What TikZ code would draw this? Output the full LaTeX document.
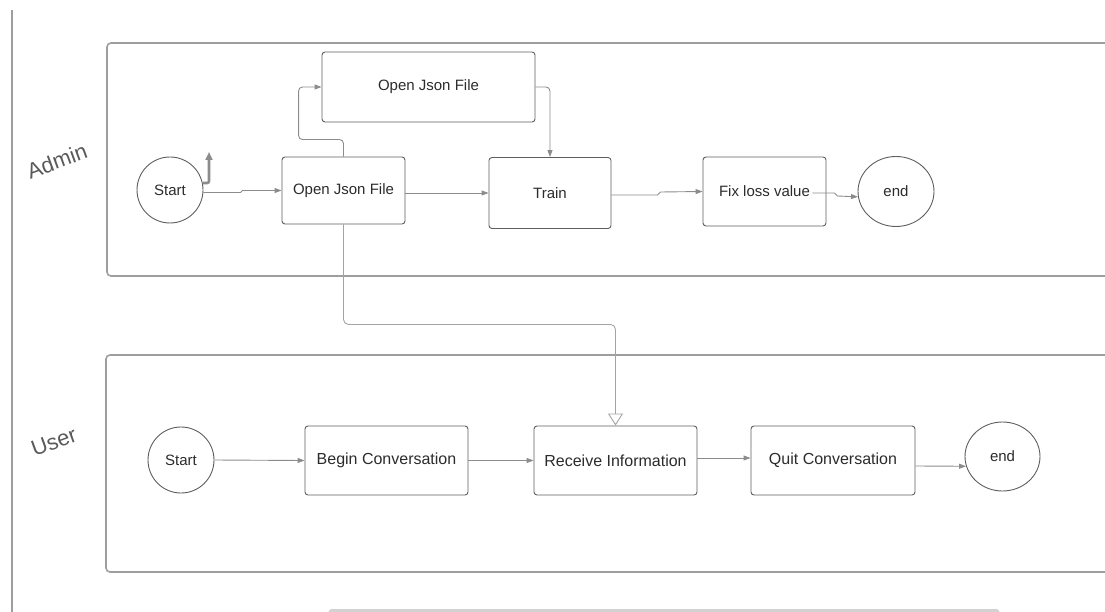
\documentclass[tikz,border=0pt]{standalone}
\usepackage{fontspec}
\setmainfont{Liberation Sans}
\usetikzlibrary{arrows.meta,shapes.geometric}
\definecolor{boxc}{HTML}{5E5E5E}
\definecolor{flowc}{HTML}{8C8C8C}
\definecolor{lanec}{HTML}{9E9E9E}
\definecolor{txtc}{HTML}{2B2B2B}
\definecolor{lblc}{HTML}{5A5A5A}
\begin{document}
\begin{tikzpicture}[x=1pt,y=-1pt,
  procbox/.style={draw=boxc, line width=0.9pt, rounded corners=3pt, inner sep=0pt,
    text=txtc, font=\fontsize{15}{18}\selectfont},
  termc/.style={draw=boxc, line width=0.9pt, circle, inner sep=0pt, minimum size=66pt,
    text=txtc, font=\fontsize{15}{18}\selectfont},
  terme/.style={draw=boxc, line width=0.9pt, ellipse, inner sep=0pt,
    text=txtc, font=\fontsize{15}{18}\selectfont},
  flow/.style={draw=flowc, line width=0.9pt, -{Triangle[length=7pt,width=5pt]}},
  lanebox/.style={draw=lanec, line width=1.6pt, rounded corners=4pt},
  lanelbl/.style={text=lblc, font=\fontsize{22}{26}\selectfont, rotate=20}]
\useasboundingbox (0,0) rectangle (1105,612);

% left boundary line
\draw[draw=lanec, line width=2pt] (12,10) -- (12,612);

% swim lanes
\draw[lanebox] (1105,43) -- (107,43) -- (107,276) -- (1105,276);
\draw[lanebox] (1105,355) -- (106,355) -- (106,572) -- (1105,572);
\draw[draw=gray!35, line width=3pt, rounded corners=2pt] (330,613) -- (330,610.5) -- (998,610.5) -- (998,613);

\node[lanelbl] (ladmin) at (57,161) {Admin};
\node[lanelbl] (luser) at (54,442) {User};

% Admin lane
\node[termc] (astart) at (170,190) {Start};
\node[procbox, minimum width=123pt, minimum height=67pt] (ojf) at (343.5,190.5) {Open Json File};
\node[procbox, minimum width=213pt, minimum height=70pt] (top) at (428.5,87) {Open Json File};
\node[procbox, minimum width=122pt, minimum height=71pt] (train) at (550,193) {Train};
\node[procbox, minimum width=123pt, minimum height=69pt] (fix) at (764.5,191.5) {Fix loss value};
\node[terme, minimum width=76pt, minimum height=70pt] (aend) at (896,191.5) {end};

% User lane
\node[termc] (ustart) at (181,460) {Start};
\node[procbox, minimum width=163pt, minimum height=69pt, font=\fontsize{16}{19}\selectfont] (begin) at (386.5,460.5) {Begin Conversation};
\node[procbox, minimum width=163pt, minimum height=69pt, font=\fontsize{16}{19}\selectfont] (recv) at (615.5,460.5) {Receive Information};
\node[procbox, minimum width=164pt, minimum height=69pt, font=\fontsize{16}{19}\selectfont] (quit) at (833,460.5) {Quit Conversation};
\node[terme, minimum width=75pt, minimum height=69pt] (uend) at (1002.5,456.5) {end};

% Admin connectors
\draw[draw=flowc!70, line width=2.6pt, -{Triangle[length=8pt,width=7pt]}, rounded corners=2pt, color=flowc]
  (astart.12) -| (209,152);
\draw[flow] ([yshift=-2.5pt]astart.east) -- ++(37,0) -- ++(2,-2) -- (ojf.west);
\draw[flow, rounded corners=4pt] (ojf.north) -- ++(0,-17) -| ([xshift=-23pt]top.west) -- (top.west);
\draw[flow, rounded corners=4pt] (top.east) -| (train.north);
\draw[flow] (ojf.east |- train.west) -- (train.west);
\draw[flow] ([yshift=-2pt]train.east) -- ++(46,0) -- ++(3,-3) -- (fix.west);
\draw[flow] ([xshift=-14pt,yshift=-1.5pt]fix.east) -- ++(22,0) -- ++(3,3) -- (aend.188);
\draw[draw=flowc!80, line width=0.9pt, rounded corners=5pt, -{Triangle[open,length=12pt,width=15pt]}]
  (ojf.south) -- ++(0,100) -| (recv.north);

% User connectors
\draw[flow] (ustart.east) -- (begin.west);
\draw[flow] (begin.east) -- (recv.west);
\draw[flow] ([yshift=2.5pt]recv.east) -- ([yshift=2.5pt]quit.west);
\draw[flow] ([yshift=-5.5pt]quit.east) -- (uend.195);
\end{tikzpicture}
\end{document}
